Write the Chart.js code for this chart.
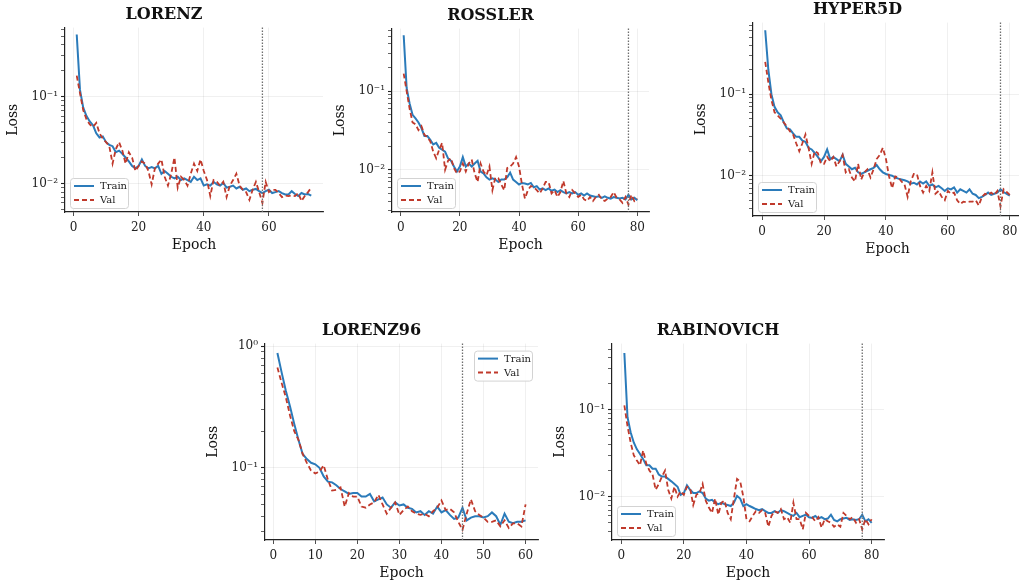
<!DOCTYPE html>
<html>
<head>
<meta charset="utf-8">
<script src="https://cdn.jsdelivr.net/npm/chart.js@4.4.1/dist/chart.umd.min.js"></script>
<style>
  html, body { margin: 0; padding: 0; background: #fff; width: 1019px; height: 587px; overflow: hidden; }
  canvas { position: absolute; }
</style>
</head>
<body>
<script>
// ---- data ----
const titles = ['LORENZ', 'ROSSLER', 'HYPER5D', 'LORENZ96', 'RABINOVICH'];
const bestEpochs = [58, 77, 77, 45, 77];

const lorenzTrain = [0.52,0.12,0.075,0.06,0.052,0.047,0.038,0.034,0.035,0.03,
  0.028,0.027,0.023,0.024,0.022,0.02,0.018,0.016,0.015,0.016,
  0.019,0.016,0.015,0.0155,0.015,0.016,0.013,0.014,0.013,0.012,
  0.0115,0.012,0.011,0.0115,0.011,0.0105,0.012,0.011,0.0115,0.0095,
  0.0098,0.0095,0.0105,0.0098,0.0095,0.0102,0.009,0.0092,0.0095,0.0088,
  0.0092,0.0085,0.0088,0.0082,0.0085,0.0087,0.0082,0.0078,0.0082,0.0085,
  0.0078,0.008,0.0082,0.0078,0.0075,0.0075,0.0082,0.0076,0.0072,0.0078,
  0.0075,0.0076,0.0073];
const lorenzVal = [0.175,0.11,0.07,0.055,0.048,0.045,0.05,0.038,0.033,0.03,
  0.027,0.017,0.025,0.03,0.024,0.017,0.023,0.02,0.014,0.016,
  0.018,0.017,0.014,0.0098,0.015,0.017,0.019,0.012,0.0095,0.013,
  0.02,0.009,0.012,0.011,0.0095,0.013,0.017,0.014,0.019,0.014,
  0.011,0.0072,0.011,0.0105,0.0095,0.0105,0.007,0.0095,0.011,0.013,
  0.0095,0.0085,0.008,0.0065,0.0085,0.0105,0.008,0.006,0.0105,0.008,
  0.0085,0.0085,0.0078,0.007,0.0073,0.0072,0.0073,0.0072,0.0078,0.0063,
  0.0072,0.008,0.009];

const rosslerTrain = [0.515,0.11,0.07,0.05,0.045,0.04,0.034,0.027,0.027,0.024,
  0.021,0.022,0.019,0.018,0.017,0.014,0.013,0.011,0.0095,0.011,
  0.0145,0.011,0.012,0.011,0.012,0.013,0.0095,0.009,0.008,0.0075,
  0.0078,0.0075,0.007,0.0075,0.0075,0.008,0.0092,0.0075,0.007,0.0065,
  0.0068,0.0067,0.0065,0.0068,0.006,0.0062,0.0056,0.0058,0.0055,0.0058,
  0.0054,0.0056,0.0052,0.0055,0.0052,0.005,0.0052,0.005,0.0052,0.0048,
  0.005,0.0047,0.005,0.0047,0.0046,0.0045,0.0046,0.0044,0.0046,0.0044,
  0.0043,0.0045,0.0044,0.0043,0.0044,0.0042,0.0048,0.0042,0.0044,0.0041];
const rosslerVal = [0.168,0.1,0.06,0.04,0.038,0.032,0.036,0.028,0.026,0.023,
  0.017,0.014,0.018,0.022,0.01,0.013,0.014,0.0105,0.009,0.0095,
  0.012,0.0095,0.012,0.0135,0.009,0.007,0.012,0.0095,0.0085,0.011,
  0.0055,0.008,0.0078,0.0065,0.0055,0.0105,0.011,0.012,0.0145,0.011,
  0.0065,0.0043,0.0055,0.0062,0.006,0.0055,0.005,0.0058,0.007,0.007,
  0.005,0.0055,0.0045,0.0052,0.0072,0.005,0.0045,0.0055,0.005,0.0045,
  0.0048,0.0042,0.004,0.0045,0.004,0.0045,0.0048,0.0042,0.004,0.0043,
  0.0045,0.0052,0.0044,0.0042,0.0038,0.0045,0.0036,0.0048,0.004,0.0043];

const hyperTrain = [0.61,0.2,0.1,0.07,0.06,0.055,0.045,0.038,0.037,0.033,
  0.03,0.03,0.027,0.026,0.022,0.021,0.019,0.017,0.015,0.017,
  0.021,0.016,0.017,0.016,0.015,0.018,0.014,0.013,0.012,0.0125,
  0.011,0.0105,0.011,0.0115,0.012,0.0125,0.0135,0.012,0.011,0.0105,
  0.0102,0.01,0.0095,0.0092,0.009,0.0088,0.0085,0.008,0.0082,0.0078,
  0.0085,0.008,0.0085,0.0075,0.0078,0.0072,0.0075,0.007,0.0065,0.007,
  0.0068,0.0072,0.0062,0.0068,0.0065,0.0062,0.0068,0.006,0.0058,0.0053,
  0.0055,0.0058,0.0062,0.0058,0.006,0.0062,0.0068,0.0063,0.006,0.0057];
const hyperVal = [0.25,0.14,0.085,0.06,0.055,0.05,0.045,0.04,0.035,0.032,
  0.025,0.02,0.025,0.032,0.022,0.014,0.02,0.019,0.014,0.014,
  0.017,0.015,0.017,0.013,0.015,0.018,0.011,0.012,0.0095,0.0085,
  0.014,0.009,0.011,0.012,0.0095,0.012,0.016,0.018,0.022,0.016,
  0.0098,0.007,0.0098,0.0095,0.0085,0.0078,0.0055,0.0085,0.0105,0.0105,
  0.0075,0.0062,0.0075,0.0065,0.011,0.006,0.0065,0.0055,0.005,0.0065,
  0.006,0.0062,0.005,0.0045,0.0048,0.0047,0.0048,0.0048,0.005,0.0043,
  0.0055,0.006,0.0058,0.0062,0.0058,0.0065,0.0042,0.0068,0.0063,0.0058];

const l96Train = [0.88,0.61,0.43,0.32,0.23,0.17,0.13,0.118,0.11,0.107,
  0.1,0.085,0.077,0.076,0.072,0.067,0.064,0.061,0.062,0.062,
  0.058,0.058,0.061,0.053,0.055,0.057,0.05,0.047,0.052,0.049,
  0.05,0.047,0.046,0.043,0.044,0.041,0.044,0.042,0.048,0.043,
  0.045,0.041,0.038,0.039,0.047,0.037,0.039,0.04,0.04,0.039,
  0.04,0.043,0.04,0.034,0.042,0.036,0.035,0.036,0.036,0.037];
const l96Val = [0.67,0.5,0.38,0.27,0.2,0.17,0.13,0.11,0.095,0.09,
  0.093,0.105,0.08,0.065,0.066,0.069,0.048,0.062,0.058,0.058,
  0.048,0.047,0.05,0.052,0.06,0.05,0.042,0.047,0.052,0.041,
  0.045,0.048,0.044,0.042,0.041,0.042,0.04,0.044,0.047,0.054,
  0.045,0.046,0.043,0.036,0.031,0.042,0.055,0.044,0.041,0.039,
  0.036,0.036,0.037,0.033,0.037,0.032,0.035,0.035,0.033,0.05];

const rabTrain = [0.45,0.082,0.055,0.042,0.035,0.031,0.027,0.023,0.023,0.021,
  0.021,0.018,0.017,0.017,0.016,0.015,0.014,0.013,0.0105,0.011,
  0.0135,0.012,0.011,0.011,0.0115,0.011,0.0095,0.009,0.0092,0.0085,
  0.0082,0.0085,0.0082,0.008,0.0078,0.0085,0.0102,0.0095,0.0078,0.0082,
  0.0078,0.0075,0.0072,0.007,0.0072,0.0068,0.0065,0.0065,0.0068,0.0065,
  0.007,0.0068,0.0065,0.0062,0.006,0.0065,0.0058,0.006,0.0062,0.0058,
  0.0057,0.006,0.0056,0.0058,0.0055,0.0056,0.0062,0.0054,0.0052,0.0055,
  0.0056,0.0057,0.0054,0.0055,0.0054,0.0055,0.0062,0.0052,0.0055,0.005];
const rabVal = [0.112,0.065,0.042,0.03,0.026,0.023,0.034,0.024,0.02,0.018,
  0.012,0.014,0.017,0.02,0.012,0.0095,0.013,0.01,0.0115,0.0105,
  0.013,0.0125,0.008,0.0105,0.011,0.014,0.009,0.0075,0.0065,0.0095,
  0.0062,0.0085,0.009,0.0065,0.0055,0.0095,0.016,0.015,0.01,0.0055,
  0.0052,0.006,0.0068,0.0065,0.007,0.0065,0.0045,0.006,0.0068,0.0065,
  0.0072,0.0055,0.0058,0.005,0.0085,0.0055,0.0055,0.0042,0.0065,0.006,
  0.0058,0.0052,0.0058,0.0044,0.0055,0.0052,0.005,0.0045,0.0048,0.0045,
  0.0065,0.006,0.0055,0.0058,0.005,0.0055,0.0042,0.0055,0.0048,0.0055];

const trainSeries = [lorenzTrain, rosslerTrain, hyperTrain, l96Train, rabTrain];
const valSeries = [lorenzVal, rosslerVal, hyperVal, l96Val, rabVal];

// tick values
const xTicks80 = [0, 20, 40, 60, 80];
const xTicks60 = [0, 10, 20, 30, 40, 50, 60];
const xTicksList = [xTicks80, xTicks80, xTicks80, xTicks60, xTicks80];
const yLimits = [[0.00472, 0.625], [0.0029, 0.627], [0.0032, 0.758], [0.0255, 1.052], [0.00317, 0.577]];

// ---- layout: plot area of each panel in page pixels ----
const areas = [
  { l: 65, r: 323, t: 28, b: 212, legend: 'll' },
  { l: 392.3, r: 649, t: 28.3, b: 212, legend: 'll' },
  { l: 753.3, r: 1022, t: 22.7, b: 216, legend: 'll' },
  { l: 265.3, r: 538, t: 343.3, b: 539.3, legend: 'ur' },
  { l: 612, r: 884.3, t: 343.3, b: 539.3, legend: 'll' }
];

const FONT = "'DejaVu Serif', 'Liberation Serif', serif";
const TRAIN_COLOR = '#2b7bba';
const VAL_COLOR = '#c0392b';
const Y_W = 60, PAD_R = 60, X_H = 45, TITLE_BLOCK = 19.2 + 3.4;

const sup = { '-': '\u207B', '0': '\u2070', '1': '\u00B9', '2': '\u00B2', '3': '\u00B3' };
function powLabel(v) {
  const e = Math.round(Math.log10(v));
  return '10' + String(e).split('').map(c => sup[c] || c).join('');
}

// dotted line at the best epoch
const bestLine = {
  id: 'bestLine',
  afterDatasetsDraw(chart, args, opts) {
    const { ctx, chartArea: a, scales } = chart;
    const x = scales.x.getPixelForValue(opts.epoch);
    ctx.save();
    ctx.strokeStyle = '#6e6e6e';
    ctx.lineWidth = 1.3;
    ctx.setLineDash([1.5, 1.5]);
    ctx.beginPath();
    ctx.moveTo(x, a.top);
    ctx.lineTo(x, a.bottom);
    ctx.stroke();
    ctx.restore();
  }
};

// matplotlib-like legend box inside the axes
const legendBox = {
  id: 'legendBox',
  afterDraw(chart, args, opts) {
    const { ctx, chartArea: a } = chart;
    const w = 58, h = 30;
    let x, y;
    if (opts.corner === 'ur') { x = a.right - w - 6; y = a.top + 7; }
    else { x = a.left + 5; y = a.bottom - h - 4; }
    ctx.save();
    ctx.fillStyle = 'rgba(255,255,255,0.85)';
    ctx.strokeStyle = '#d3d3d3';
    ctx.lineWidth = 1;
    ctx.beginPath();
    ctx.roundRect(x + 0.5, y + 0.5, w, h, 3);
    ctx.fill();
    ctx.stroke();
    ['Train', 'Val'].forEach((name, i) => {
      const ds = chart.data.datasets.find(d => d.label === name);
      const cy = y + 8 + i * 14;
      ctx.strokeStyle = ds.borderColor;
      ctx.lineWidth = 2;
      ctx.setLineDash(ds.borderDash || []);
      ctx.beginPath();
      ctx.moveTo(x + 4, cy);
      ctx.lineTo(x + 24, cy);
      ctx.stroke();
      ctx.setLineDash([]);
      ctx.fillStyle = '#222';
      ctx.font = '10px ' + FONT;
      ctx.textBaseline = 'middle';
      ctx.fillText(name, x + 30, cy + 0.5);
    });
    ctx.restore();
  }
};

titles.forEach((title, i) => {
  const a = areas[i];
  const train = trainSeries[i], val = valSeries[i];
  const n = train.length;
  const margin = (n - 1) * 0.05;
  const xMin = 1 - margin, xMax = n + margin;

  const canvas = document.createElement('canvas');
  const left = Math.round(a.l - Y_W), top = Math.round(a.t - TITLE_BLOCK);
  const width = Math.round(a.r - a.l + Y_W + PAD_R);
  const height = Math.round(a.b - a.t + TITLE_BLOCK + X_H);
  canvas.width = width; canvas.height = height;
  canvas.style.left = left + 'px'; canvas.style.top = top + 'px';
  canvas.style.width = width + 'px'; canvas.style.height = height + 'px';
  document.body.appendChild(canvas);

  new Chart(canvas.getContext('2d'), {
    type: 'line',
    data: {
      datasets: [
        {
          label: 'Train',
          data: train.map((v, k) => ({ x: k + 1, y: v })),
          borderColor: TRAIN_COLOR,
          borderWidth: 2,
          pointRadius: 0,
          tension: 0,
          order: 1
        },
        {
          label: 'Val',
          data: val.map((v, k) => ({ x: k + 1, y: v })),
          borderColor: VAL_COLOR,
          borderWidth: 1.8,
          borderDash: [5, 3],
          pointRadius: 0,
          tension: 0,
          order: 0
        }
      ]
    },
    options: {
      responsive: false,
      animation: false,
      devicePixelRatio: 1,
      layout: { padding: { left: 0, right: PAD_R, top: 0, bottom: 0 } },
      plugins: {
        legend: { display: false },
        tooltip: { enabled: false },
        title: {
          display: true,
          text: title,
          color: '#111',
          font: { family: FONT, size: 16, weight: 'bold', lineHeight: 1.2 },
          padding: { top: 0, bottom: 3.4 }
        },
        bestLine: { epoch: bestEpochs[i] },
        legendBox: { corner: a.legend }
      },
      scales: {
        x: {
          type: 'linear',
          min: xMin,
          max: xMax,
          afterFit: s => { s.height = X_H; },
          afterBuildTicks: s => {
            s.ticks = xTicksList[i].filter(v => v >= xMin && v <= xMax).map(v => ({ value: v }));
          },
          ticks: { color: '#222', font: { family: FONT, size: 12 }, padding: 5, autoSkip: false, maxRotation: 0 },
          grid: { color: 'rgba(0,0,0,0.08)', tickColor: '#222', tickLength: 4, lineWidth: 0.8 },
          border: { display: true, color: '#222', width: 1.2 },
          title: { display: true, text: 'Epoch', color: '#111', font: { family: FONT, size: 14 }, padding: { top: 0, bottom: 3.6 } }
        },
        y: {
          type: 'logarithmic',
          min: yLimits[i][0],
          max: yLimits[i][1],
          afterFit: s => { s.width = Y_W; },
          afterBuildTicks: s => {
            const out = [];
            for (let e = -4; e <= 1; e++) {
              for (let m = 1; m <= 9; m++) {
                const v = m * Math.pow(10, e);
                if (v >= s.min && v <= s.max) out.push({ value: v, major: m === 1 });
              }
            }
            s.ticks = out;
          },
          ticks: {
            color: '#222',
            font: { family: FONT, size: 12 },
            padding: 3,
            autoSkip: false,
            callback: function (v) {
              const e = Math.log10(v);
              return Math.abs(e - Math.round(e)) < 1e-6 ? powLabel(v) : '';
            }
          },
          grid: {
            color: c => (c.tick && c.tick.major ? 'rgba(0,0,0,0.08)' : 'rgba(0,0,0,0)'),
            tickColor: '#222',
            tickLength: 4,
            lineWidth: 0.8,
            tickWidth: c => (c.tick && c.tick.major ? 1.1 : 0.7)
          },
          border: { display: true, color: '#222', width: 1.2 },
          title: { display: true, text: 'Loss', color: '#111', font: { family: FONT, size: 14 }, padding: { top: 0, bottom: 0 } }
        }
      }
    },
    plugins: [bestLine, legendBox]
  });
});
</script>
</body>
</html>
